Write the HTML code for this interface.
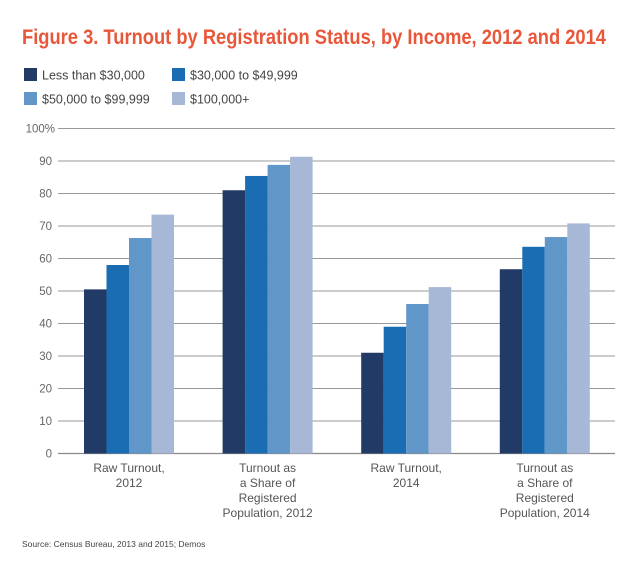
<!DOCTYPE html>
<html><head><meta charset="utf-8"><style>
body{margin:0;background:#fff;width:638px;height:572px;overflow:hidden;font-family:"Liberation Sans",Arial,sans-serif;}
</style></head><body>
<svg width="638" height="572">
<text x="22" y="44" fill="#e8573a" font-size="21.5" font-weight="bold" font-family="Liberation Sans Narrow, Liberation Sans, sans-serif" textLength="584" lengthAdjust="spacingAndGlyphs">Figure 3. Turnout by Registration Status, by Income, 2012 and 2014</text>
<g id="legend"></g>
<g id="grid"></g><g id="bars"></g><g id="xl"></g>
<text x="22" y="547" fill="#444" font-size="8.5">Source: Census Bureau, 2013 and 2015; Demos</text>
</svg>
<script>
const categories=[["Raw Turnout,","2012"],["Turnout as","a Share of","Registered","Population, 2012"],["Raw Turnout,","2014"],["Turnout as","a Share of","Registered","Population, 2014"]];
const seriesNames=["Less than $30,000","$30,000 to $49,999","$50,000 to $99,999","$100,000+"];
const s1=[50.5,81,31,56.7];
const s2=[58,85.4,39,63.6];
const s3=[66.3,88.8,46,66.6];
const s4=[73.5,91.3,51.2,70.8];
const ticks=[0,10,20,30,40,50,60,70,80,90,100];
const tickLabels=["0","10","20","30","40","50","60","70","80","90","100%"];
const colors=["#213a66","#1b6db3","#6196c8","#a6b8d6"];
const NS="http://www.w3.org/2000/svg";
const y=v=>453.5-v*3.25;
const groupCenter=i=>129+i*138.6;
const BW=22.5;
function mk(t,a,p){const e=document.createElementNS(NS,t);for(const k in a)e.setAttribute(k,a[k]);p.appendChild(e);return e;}
const grid=document.getElementById('grid');
ticks.forEach((t,i)=>{
 const l=mk('line',{x1:58,x2:615,y1:y(t),y2:y(t),stroke:i==0?'#888':'#999','stroke-width':i==0?1.2:1},grid);
 
 
 const tx=mk('text',{x:t==100?55:52,y:y(t)+4,'text-anchor':'end',fill:'#666','font-size':11.5},grid);
 tx.textContent=tickLabels[i];
 
 
});
const series=[s1,s2,s3,s4];
const bars=document.getElementById('bars');
series.forEach((s,si)=>s.forEach((v,ci)=>{
 const x=groupCenter(ci)-2*BW+si*BW;
 const r=mk('rect',{x:x,y:y(v),width:BW,height:y(0)-y(v),fill:colors[si]},bars);
 
 
}));
const xl=document.getElementById('xl');
categories.forEach((c,ci)=>{
 c.forEach((line,li)=>{
  const t=mk('text',{x:groupCenter(ci),y:472+li*15,'text-anchor':'middle',fill:'#555','font-size':12},xl);
  t.textContent=line;
  
  
 });
});
const lg=document.getElementById('legend');
seriesNames.forEach((n,i)=>{
 const lx=i%2==0?24:172, ly=i<2?68:92;
 const r=mk('rect',{x:lx,y:ly,width:13,height:13,fill:colors[i]},lg);
 
 
 const t=mk('text',{x:lx+18,y:ly+11.5,fill:'#444','font-size':12.5},lg);
 t.textContent=n;
 
 
});
</script>
</body></html>
